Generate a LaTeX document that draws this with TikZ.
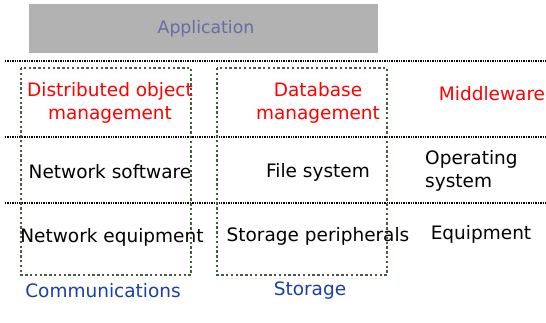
\documentclass[tikz,border=0pt]{standalone}
\usepackage{fontspec}
\setmainfont{DejaVu Sans}
\definecolor{appgray}{HTML}{B2B2B2}
\definecolor{apptext}{HTML}{6A6AA6}
\definecolor{boxgreen}{HTML}{3F5F3F}
\definecolor{lblue}{HTML}{1A3FA8}
\definecolor{mred}{HTML}{FF0000}
\begin{document}
\begin{tikzpicture}[x=1pt,y=-1pt,
  txt/.style={inner sep=0pt,font=\fontsize{18.5}{23}\selectfont,align=center},
  redtxt/.style={txt,text=mred},
  blacktxt/.style={txt,text=black},
  bluetxt/.style={txt,text=lblue},
  sep/.style={black,line width=1.3pt,dash pattern=on 1.3pt off 1.1pt},
  grp/.style={boxgreen,line width=2.6pt,dash pattern=on 2.4pt off 2.4pt}]
\useasboundingbox (0,0) rectangle (546,322);
\fill[appgray] (29,4) rectangle (378,53);
\node[txt,text=apptext,font=\fontsize{17.3}{21}\selectfont] (app) at (206,29) {Application};
\coordinate (l1a) at (5,61); \coordinate (l1b) at (546,61);
\coordinate (l2a) at (5,137); \coordinate (l2b) at (546,137);
\coordinate (l3a) at (5,203); \coordinate (l3b) at (546,203);
\draw[sep] (l1a) -- (l1b);
\draw[sep] (l2a) -- (l2b);
\draw[sep] (l3a) -- (l3b);
\draw[grp] (21,68) rectangle (191,275);
\draw[grp] (217,68) rectangle (387,275);
\node[redtxt] (dom) at (110,103) {Distributed object\\management};
\node[redtxt] (dbm) at (318,103) {Database\\management};
\node[redtxt] (mw) at (492,94) {Middleware};
\node[blacktxt] (ns) at (110,172) {Network software};
\node[blacktxt] (fs) at (318,172) {File system};
\node[blacktxt,align=left,anchor=west] (os) at (425,171) {Operating\\system};
\node[blacktxt] (ne) at (112,237) {Network equipment};
\node[blacktxt] (sp) at (318,236) {Storage peripherals};
\node[blacktxt] (eq) at (481,234) {Equipment};
\node[bluetxt] (com) at (103,291) {Communications};
\node[bluetxt] (sto) at (310,291) {Storage};
\end{tikzpicture}
\end{document}
